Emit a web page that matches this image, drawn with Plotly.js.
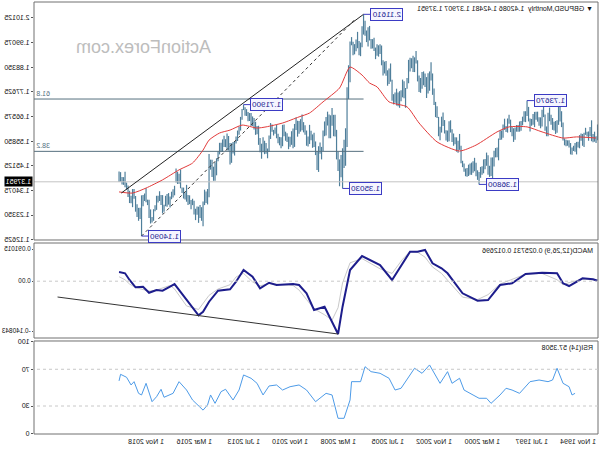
<!DOCTYPE html>
<html><head><meta charset="utf-8">
<script src="https://cdn.plot.ly/plotly-3.0.1.min.js"></script>
<style>html,body{margin:0;padding:0;background:#fff}#chart{width:600px;height:450px;transform:scaleX(-1);}</style>
</head><body><div id="chart"></div>
<script>
// GBPUSD monthly bars, first bar = Nov 1994 (bar index 0), last = Jun 2021 (bar 319)
const high = [
 1.632,1.580,
 1.600,1.590,1.650,1.620,1.601,1.600,1.617,1.595,1.590,1.592,1.585,1.556,
 1.555,1.550,1.538,1.530,1.550,1.562,1.562,1.565,1.570,1.640,1.690,1.713,
 1.711,1.650,1.647,1.644,1.660,1.674,1.706,1.683,1.623,1.675,1.720,1.696,
 1.663,1.663,1.688,1.688,1.687,1.678,1.656,1.658,1.709,1.7367,1.690,1.690,
 1.666,1.647,1.645,1.629,1.629,1.618,1.615,1.622,1.653,1.674,1.658,1.625,
 1.657,1.632,1.605,1.606,1.570,1.530,1.528,1.516,1.487,1.486,1.450,1.496,
 1.508,1.480,1.478,1.448,1.445,1.423,1.430,1.463,1.485,1.470,1.464,1.460,
 1.455,1.440,1.438,1.460,1.472,1.538,1.590,1.560,1.575,1.575,1.592,1.611,
 1.650,1.646,1.605,1.606,1.651,1.684,1.666,1.622,1.665,1.712,1.731,1.790,
 1.856,1.905,1.865,1.857,1.840,1.856,1.865,1.862,1.836,1.847,1.914,1.955,
 1.927,1.934,1.923,1.925,1.916,1.836,1.792,1.822,1.829,1.782,1.778,1.772,
 1.789,1.772,1.765,1.828,1.900,1.878,1.870,1.911,1.908,1.914,1.979,1.985,
 1.980,1.985,1.970,2.013,2.007,2.008,2.065,2.059,2.045,2.088,2.1161,2.064,
 1.992,1.999,2.039,2.005,1.985,1.996,2.016,1.997,1.892,1.795,1.615,1.564,
 1.527,1.497,1.478,1.512,1.608,1.674,1.674,1.704,1.672,1.675,1.688,1.665,
 1.645,1.605,1.533,1.552,1.536,1.514,1.557,1.595,1.588,1.604,1.630,1.579,
 1.605,1.628,1.642,1.675,1.655,1.647,1.648,1.662,1.634,1.614,1.602,1.578,
 1.578,1.593,1.600,1.631,1.630,1.575,1.577,1.591,1.631,1.618,1.608,1.631,
 1.638,1.583,1.526,1.550,1.560,1.575,1.547,1.572,1.626,1.625,1.644,1.660,
 1.667,1.682,1.682,1.686,1.699,1.707,1.719,1.700,1.665,1.623,1.605,1.579,
 1.559,1.555,1.549,1.550,1.581,1.592,1.567,1.582,1.566,1.551,1.551,1.514,
 1.483,1.466,1.446,1.477,1.477,1.502,1.348,1.337,1.345,1.293,1.268,1.278,
 1.270,1.271,1.261,1.296,1.305,1.299,1.320,1.321,1.366,1.334,1.354,1.355,
 1.434,1.415,1.424,1.438,1.362,1.347,1.336,1.315,1.330,1.326,1.318,1.279,
 1.321,1.321,1.338,1.318,1.318,1.276,1.259,1.225,1.258,1.301,1.301,1.351,
 1.328,1.321,1.320,1.265,1.265,1.281,1.317,1.348,1.348,1.318,1.340,1.363,
 1.376,1.424,1.400,1.401,1.422,1.4248
];
const low = [
 1.562,1.550,
 1.556,1.554,1.558,1.580,1.560,1.579,1.586,1.533,1.538,1.560,1.527,1.530,
 1.500,1.512,1.515,1.498,1.500,1.530,1.538,1.536,1.540,1.561,1.620,1.645,
 1.630,1.595,1.590,1.605,1.608,1.630,1.646,1.580,1.580,1.604,1.664,1.623,
 1.615,1.626,1.644,1.652,1.620,1.630,1.626,1.601,1.645,1.669,1.642,1.644,
 1.628,1.604,1.600,1.600,1.600,1.565,1.555,1.580,1.598,1.635,1.596,1.598,
 1.608,1.573,1.565,1.563,1.474,1.488,1.487,1.447,1.396,1.405,1.401,1.410,
 1.450,1.435,1.417,1.411,1.397,1.368,1.388,1.404,1.426,1.419,1.410,1.410,
 1.405,1.402,1.404,1.424,1.444,1.461,1.520,1.507,1.512,1.545,1.538,1.555,
 1.596,1.558,1.555,1.561,1.592,1.625,1.596,1.562,1.580,1.660,1.664,1.717,
 1.762,1.825,1.780,1.768,1.748,1.796,1.804,1.789,1.771,1.775,1.821,1.900,
 1.862,1.862,1.879,1.865,1.813,1.789,1.705,1.747,1.751,1.734,1.705,1.712,
 1.715,1.727,1.720,1.736,1.820,1.810,1.802,1.846,1.856,1.847,1.892,1.942,
 1.930,1.934,1.919,1.955,1.966,1.965,2.001,1.975,1.994,2.022,2.027,1.971,
 1.932,1.936,1.967,1.954,1.940,1.936,1.980,1.817,1.744,1.533,1.450,1.440,
 1.3503,1.399,1.360,1.427,1.478,1.579,1.580,1.626,1.571,1.571,1.627,1.583,
 1.580,1.515,1.478,1.503,1.423,1.431,1.497,1.533,1.529,1.562,1.546,1.535,
 1.538,1.586,1.597,1.606,1.600,1.591,1.578,1.607,1.533,1.527,1.542,1.534,
 1.523,1.555,1.560,1.580,1.536,1.527,1.540,1.549,1.571,1.591,1.583,1.600,
 1.568,1.511,1.483,1.503,1.501,1.510,1.481,1.510,1.542,1.589,1.586,1.609,
 1.625,1.625,1.647,1.646,1.669,1.670,1.695,1.652,1.605,1.587,1.559,1.548,
 1.495,1.504,1.463,1.456,1.517,1.517,1.532,1.533,1.511,1.511,1.500,1.470,
 1.408,1.384,1.384,1.401,1.433,1.312,1.280,1.286,1.277,1.184,1.208,1.220,
 1.199,1.235,1.211,1.236,1.277,1.259,1.281,1.277,1.292,1.302,1.306,1.330,
 1.351,1.371,1.370,1.376,1.320,1.310,1.303,1.266,1.279,1.270,1.272,1.248,
 1.240,1.277,1.295,1.288,1.256,1.250,1.208,1.201,1.196,1.220,1.277,1.290,
 1.295,1.272,1.1409,1.216,1.208,1.225,1.248,1.305,1.268,1.285,1.286,1.313,
 1.345,1.356,1.366,1.368,1.380,1.3791
];
const lastClose = 1.37951;

// moving average (red line)
const maBar   = [1,14,23,37,47,59,67,81,92,107,119,127,139,147,152,157,165,172,183,192,199,210,221,227,237,245,252,259,263,270,279,290,301,310,319];
const maValue = [1.572,1.577,1.572,1.599,1.621,1.621,1.599,1.541,1.515,1.555,1.638,1.709,1.731,1.797,1.814,1.849,1.884,1.792,1.731,1.682,1.665,1.638,1.621,1.616,1.629,1.607,1.594,1.563,1.519,1.462,1.432,1.388,1.352,1.330,1.335];

// MACD(12,26,9)
const macdBar   = [0,3,10,19,23,27,37,48,57,65,73,80,90,100,104,110,115,120,125,137,145,157,165,170,173,177,182,189,194,199,203,214,219,225,230,236,241,245,253,259,263,266,274,282,285,290,294,299,303,308,312,315,319];
const macdValue = [0.0014,0.0054,0.0082,-0.0136,-0.0060,0.0223,0.0240,0.0203,-0.0060,-0.0108,-0.0532,-0.0552,-0.0343,0.0223,0.0364,0.0506,0.0882,0.0834,0.0834,0.0034,0.0458,0.0712,0.0316,-0.0721,-0.1493,-0.1146,-0.0721,-0.0815,-0.0343,-0.0108,-0.0080,-0.0108,-0.0043,-0.0201,0.0127,0.0316,-0.0015,-0.0229,-0.0269,-0.0580,-0.0863,-0.0964,-0.0532,-0.0080,-0.0156,-0.0269,-0.0249,-0.0326,-0.0156,-0.0173,0.0034,0.0223,0.025731];
const signalBar   = [0,3,10,19,23,27,37,48,57,65,73,80,90,100,104,110,115,120,125,130,137,145,157,165,170,173,177,182,189,194,199,203,214,219,225,230,236,241,245,253,259,263,266,274,282,285,290,294,299,303,308,312,315,319];
const signalValue = [0.003,0.004,0.006,-0.004,-0.010,0.004,0.022,0.020,0.004,-0.008,-0.038,-0.052,-0.045,0.002,0.022,0.040,0.068,0.082,0.084,0.062,0.022,0.035,0.064,0.052,-0.005,-0.075,-0.110,-0.095,-0.078,-0.052,-0.025,-0.012,-0.008,-0.007,-0.013,-0.002,0.022,0.012,-0.010,-0.022,-0.040,-0.062,-0.080,-0.070,-0.022,-0.012,-0.020,-0.025,-0.028,-0.024,-0.018,-0.008,0.004,0.012696];
const macdTrendBar = [173, 360];
const macdTrendValue = [-0.1493, -0.0447];

// RSI(14)
const rsiBar   = [15,17,19,23,27,30,33,39,45,52,57,61,65,71,74,79,83,89,92,97,100,105,112,117,122,125,131,135,139,145,151,155,158,164,165,169,173,177,181,188,194,199,205,210,214,219,223,227,231,236,239,243,248,251,255,258,260,263,270,274,279,283,289,291,294,297,301,304,306,309,311,314,318,319];
const rsiValue = [43.8,42.0,51.0,54.7,71.1,58.3,56.5,58.3,56.5,43.8,47.4,49.3,42.0,32.9,38.4,38.4,42.0,47.4,60.2,54.7,67.4,54.7,74.7,65.6,71.1,63.8,49.3,47.4,60.2,65.6,67.4,72.8,56.5,56.5,36.5,16.6,16.6,42.0,43.8,34.7,47.4,52.9,51.0,47.4,52.9,51.8,42.0,54.7,60.2,63.8,47.4,36.5,48.2,45.6,32.9,42.0,31.1,25.5,36.5,47.4,56.5,43.8,39.5,48.2,40.1,34.7,54.7,42.0,43.8,56.5,52.9,61.3,64.5,57.3508];

// swing points with price labels, trend lines
const swingBar   = [156, 236, 170, 304, 79, 47];
const swingPrice = [2.1161, 1.7190, 1.3503, 1.1409, 1.3680, 1.7367];
const fibLevels = [61.8, 38.2];
const fibHighBar = 156, fibHigh = 2.1161, fibLow = 1.1409;
const trendBar = [156, 317.5], trendValue = [2.1161, 1.330];
const trend2Bar = [304, 161], trend2Value = [1.1409, 2.0986];

// axis labels
const dateTickBar = [0,32,64,96,128,160,192,224,256,288];
const dateTickLabel = ['1 Nov 1994','1 Jul 1997','1 Mar 2000','1 Nov 2002','1 Jul 2005','1 Mar 2008','1 Nov 2010','1 Jul 2013','1 Mar 2016','1 Nov 2018'];
const priceTicks = [1.12625,1.23350,1.34075,1.45125,1.55850,1.66575,1.77625,1.88350,1.99075,2.10125];
const macdTicks = [0.091015, 0, -0.140843], macdTickText = ['0.091015','0.00','-0.140843'];
const rsiTicks = [100,70,30,0];
const header = '\u25BC GBPUSD,Monthly\u00A0\u00A01.42086 1.42481 1.37907 1.37951';
const macdHeader = 'MACD(12,26,9) 0.025731 0.012696';
const rsiHeader = 'RSI(14) 57.3508';
const watermark = 'ActionForex.com';

const xRange = [-0.3, 375.7];
const barX = [], barY = [];
for (let i = 0; i < high.length; i++) { barX.push(i, i, null); barY.push(low[i], high[i], null); }

const traces = [];
traces.push({x: barX, y: barY, type:'scatter', mode:'lines', line:{color:'#4f7f9b', width:1.2}, xaxis:'x', yaxis:'y'});
traces.push({x: xRange, y:[lastClose,lastClose], mode:'lines', line:{color:'#c4c4c4', width:1}, yaxis:'y'});
fibLevels.forEach(l => {
  const p = fibLow + (fibHigh - fibLow) * l / 100;
  traces.push({x:[fibHighBar, xRange[1]], y:[p,p], mode:'lines', line:{color:'#55707f', width:1}, yaxis:'y'});
});
traces.push({x: maBar, y: maValue, mode:'lines', line:{color:'#e23a3a', width:1, shape:'spline', smoothing:0.6}, yaxis:'y'});
traces.push({x: trendBar, y: trendValue, mode:'lines', line:{color:'#222', width:1}, yaxis:'y'});
traces.push({x: trend2Bar, y: trend2Value, mode:'lines', line:{color:'#333', width:1, dash:'3px,3px'}, yaxis:'y'});
swingBar.forEach((b,i) => {
  traces.push({x:[b, b-4.6], y:[swingPrice[i], swingPrice[i]], mode:'lines', line:{color:'#3b3bc4', width:1}, yaxis:'y'});
});
traces.push({x: signalBar, y: signalValue, mode:'lines', line:{color:'#c9c9c9', width:1}, yaxis:'y2'});
traces.push({x: macdBar, y: macdValue, mode:'lines', line:{color:'#1d1d8c', width:2}, yaxis:'y2'});
traces.push({x: macdTrendBar, y: macdTrendValue, mode:'lines', line:{color:'#333', width:1}, yaxis:'y2'});
traces.push({x: rsiBar, y: rsiValue, mode:'lines', line:{color:'#4d9be8', width:1}, yaxis:'y3'});

const axisFont = {family:'"Liberation Sans", Arial, sans-serif', size:7, color:'#111'};
const yCommon = {side:'right', anchor:'x', showgrid:false, zeroline:false, showline:false, ticks:'outside', ticklen:2, tickcolor:'#555', tickfont:axisFont, fixedrange:true};
const borderShape = yref => ({type:'rect', xref:'x domain', yref: yref, x0:0, x1:1, y0:0, y1:1, line:{color:'#707070', width:1}});
const annotations = [];
swingBar.forEach((b,i) => annotations.push({x: b-4.6, y: swingPrice[i], xref:'x', yref:'y', xanchor:'right', yanchor:'middle', text: swingPrice[i].toFixed(5), showarrow:false, font:{family:'"Liberation Sans", Arial', size:8, color:'#1a1a90'}, bgcolor:'#f5f5ff', bordercolor:'#3b3bc4', borderwidth:1, borderpad:1}));
fibLevels.forEach(l => annotations.push({x:1, xref:'x domain', xanchor:'right', y: fibLow + (fibHigh-fibLow)*l/100, yref:'y', yanchor:'bottom', text: l.toFixed(1), showarrow:false, font:{family:'"Liberation Sans", Arial', size:7, color:'#55707f'}}));
dateTickBar.forEach((b,i) => annotations.push({x:b, xref:'x', xanchor:'left', y:0, yref:'paper', yanchor:'top', yshift:-2, text: dateTickLabel[i], showarrow:false, font:axisFont}));
annotations.push({x:1, xref:'paper', xanchor:'left', xshift:1, y:lastClose, yref:'y', text: lastClose.toFixed(5), showarrow:false, bgcolor:'#000', font:{family:'"Liberation Sans", Arial', size:7, color:'#fff'}, borderpad:1});
annotations.push({x:0, xref:'paper', xanchor:'left', xshift:3, y:1, yref:'y domain', yanchor:'top', yshift:-1, text: header, showarrow:false, font:axisFont});
annotations.push({x:0, xref:'paper', xanchor:'left', xshift:3, y:1, yref:'y2 domain', yanchor:'top', yshift:-2, text: macdHeader, showarrow:false, font:axisFont});
annotations.push({x:0, xref:'paper', xanchor:'left', xshift:3, y:1, yref:'y3 domain', yanchor:'top', yshift:-1, text: rsiHeader, showarrow:false, font:axisFont});
annotations.push({x:0.806, xref:'paper', xanchor:'center', y:0.896, yref:'paper', yanchor:'middle', text: watermark, showarrow:false, font:{family:'"Liberation Sans", Arial', size:18, color:'#bdbdbd'}});

const layout = {
  width:600, height:450,
  margin:{l:2, r:34, t:2, b:16, pad:0},
  paper_bgcolor:'#fff', plot_bgcolor:'#fff', showlegend:false,
  font: axisFont,
  xaxis:{range:xRange, anchor:'y3', showgrid:false, zeroline:false, showline:false, ticks:'', showticklabels:false, fixedrange:true},
  yaxis: Object.assign({}, yCommon, {domain:[0.4491,1], range:[1.1236,2.1703], tickvals:priceTicks, ticktext:priceTicks.map(v=>v.toFixed(5))}),
  yaxis2: Object.assign({}, yCommon, {domain:[0.2222,0.4421], range:[-0.16064,0.10798], tickvals:macdTicks, ticktext:macdTickText, ticklen:1, tickfont:Object.assign({}, axisFont, {size:6.4})}),
  yaxis3: Object.assign({}, yCommon, {domain:[0,0.2153], range:[-0.5,100.8], tickvals:rsiTicks, ticktext:rsiTicks.map(String)}),
  shapes:[
    borderShape('y domain'), borderShape('y2 domain'), borderShape('y3 domain'),
    {type:'line', xref:'x domain', x0:0, x1:1, yref:'y2', y0:0, y1:0, line:{color:'#c8c8c8', width:1, dash:'3px,3px'}},
    {type:'line', xref:'x domain', x0:0, x1:1, yref:'y3', y0:70, y1:70, line:{color:'#c8c8c8', width:1, dash:'3px,3px'}},
    {type:'line', xref:'x domain', x0:0, x1:1, yref:'y3', y0:30, y1:30, line:{color:'#c8c8c8', width:1, dash:'3px,3px'}}
  ],
  annotations: annotations
};
Plotly.newPlot('chart', traces, layout, {staticPlot:true, displayModeBar:false});
</script>
</body></html>
